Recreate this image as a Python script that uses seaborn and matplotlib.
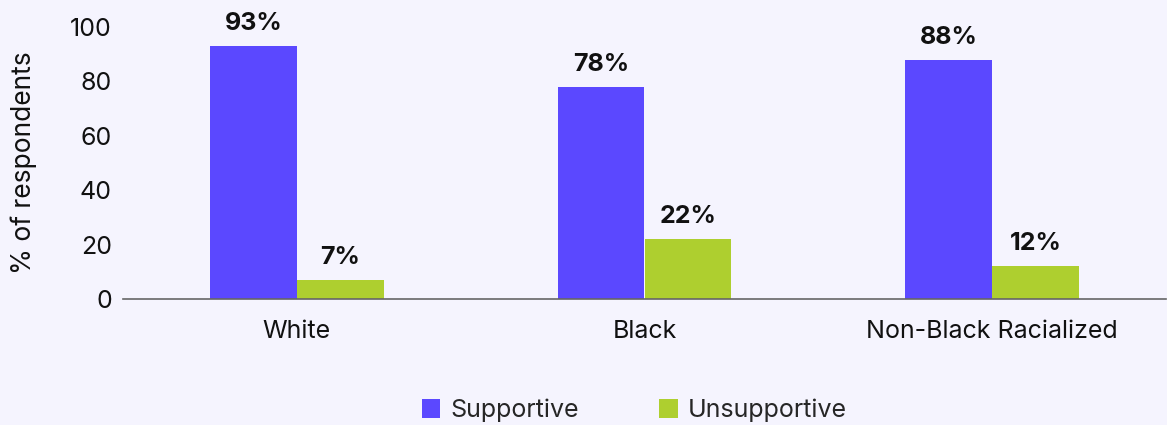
import numpy as np
import pandas as pd
import matplotlib
matplotlib.use("Agg")
import matplotlib.pyplot as plt
import seaborn as sns
from matplotlib.patches import Patch

categories = ["White", "Black", "Non-Black Racialized"]
series_names = ["Supportive", "Unsupportive"]
supportive = [93, 78, 88]
unsupportive = [7, 22, 12]
yticks = [0, 20, 40, 60, 80, 100]

colors = ["#5B48FF", "#AECF2F"]
bg = "#F5F4FE"

df = pd.DataFrame({
    "category": categories * 2,
    "series": [series_names[0]] * 3 + [series_names[1]] * 3,
    "value": supportive + unsupportive,
})

sns.set_theme(style="white")
plt.rcParams["font.family"] = ["Inter", "DejaVu Sans"]

fs = 18
fig = plt.figure(figsize=(11.67, 4.25), dpi=100, facecolor=bg)
ax = fig.add_axes([123 / 1167, 126 / 425, 1043 / 1167, (398 - 126) / 425])
ax.set_facecolor(bg)

sns.barplot(data=df, x="category", y="value", hue="series", order=categories,
            hue_order=series_names, palette=colors, width=0.5, ax=ax,
            saturation=1, legend=False, edgecolor="none")

for cont in ax.containers:
    ax.bar_label(cont, labels=[f"{int(v)}%" for v in cont.datavalues],
                 padding=8, fontsize=fs, fontweight="bold", color="#111111")

ax.set_xlim(-0.5, 2.5)
ax.set_ylim(0, 100)
ax.set_yticks(yticks)
ax.set_yticklabels([str(t) for t in yticks])
ax.tick_params(axis="y", length=0, pad=8, labelsize=fs, labelcolor="#111111")
ax.tick_params(axis="x", length=0, pad=15, labelsize=fs, labelcolor="#111111")
ax.set_xlabel("")
ax.set_ylabel("% of respondents", fontsize=19, color="#111111", labelpad=24)
for s in ["top", "right", "left"]:
    ax.spines[s].set_visible(False)
ax.spines["bottom"].set_color("#666666")
ax.spines["bottom"].set_linewidth(1.2)
ax.spines["bottom"].set_clip_on(False)

handles = [Patch(facecolor=c, edgecolor="none") for c in colors]
ax.legend(handles, series_names, loc="center", bbox_to_anchor=(0.49, -0.41),
          ncol=2, frameon=False, fontsize=fs, handlelength=0.75, handleheight=0.75,
          columnspacing=3.2, handletextpad=0.4)

fig.savefig("out.png", dpi=100, facecolor=bg)
